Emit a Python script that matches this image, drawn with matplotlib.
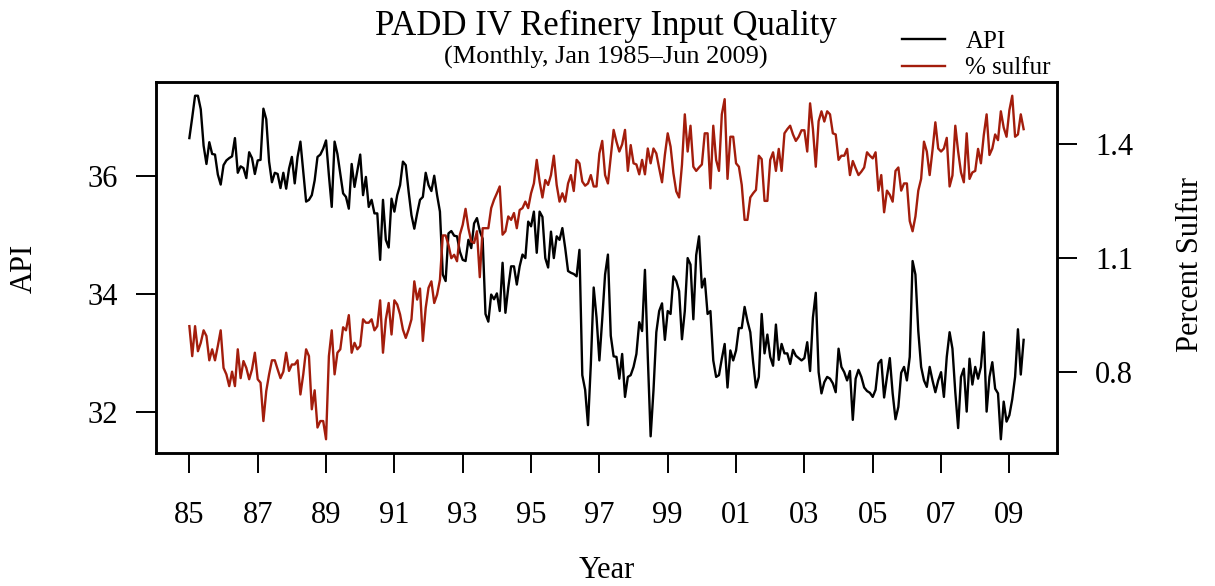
import numpy as np
import matplotlib
matplotlib.use("Agg")
from matplotlib import pyplot as plt

# monthly series, Jan 1985 - Jun 2009
start_year = 1985
api = [
    36.65, 37.00, 37.37, 37.37, 37.14, 36.52, 36.21, 36.58, 36.38, 36.37, 36.03, 35.86,
    36.19, 36.27, 36.31, 36.34, 36.65, 36.06, 36.17, 36.14, 35.97, 36.41, 36.31, 36.04,
    36.27, 36.28, 37.15, 36.97, 36.25, 35.90, 36.06, 36.04, 35.80, 36.06, 35.79, 36.13,
    36.33, 35.88, 36.33, 36.59, 36.07, 35.57, 35.60, 35.68, 35.93, 36.33, 36.37, 36.47,
    36.61, 36.02, 35.48, 36.59, 36.38, 36.04, 35.71, 35.65, 35.45, 36.21, 35.82, 36.10,
    36.37, 35.68, 35.99, 35.48, 35.60, 35.37, 35.37, 34.58, 35.60, 34.92, 34.79, 35.62,
    35.40, 35.68, 35.85, 36.25, 36.19, 35.74, 35.34, 35.11, 35.37, 35.60, 35.65, 36.06,
    35.85, 35.75, 36.01, 35.68, 35.40, 34.33, 34.22, 35.03, 35.07, 34.99, 34.98, 34.72,
    34.58, 34.56, 34.92, 34.78, 35.20, 35.29, 35.07, 34.94, 33.66, 33.53, 33.99, 33.91,
    34.01, 33.71, 34.53, 33.68, 34.11, 34.47, 34.47, 34.16, 34.47, 34.67, 34.61, 35.23,
    35.15, 35.40, 34.70, 35.40, 35.31, 34.61, 34.45, 35.06, 34.61, 34.98, 34.92, 35.12,
    34.78, 34.39, 34.36, 34.34, 34.30, 34.75, 32.62, 32.37, 31.77, 32.81, 34.11, 33.60,
    32.87, 33.57, 34.33, 34.67, 33.29, 32.94, 32.93, 32.56, 32.98, 32.25, 32.59, 32.62,
    32.76, 32.98, 33.52, 33.37, 34.41, 32.93, 31.58, 32.36, 33.35, 33.71, 33.84, 33.22,
    33.71, 33.66, 34.30, 34.22, 34.05, 33.23, 33.71, 34.61, 34.50, 33.57, 34.66, 34.98,
    34.11, 34.26, 33.66, 33.71, 32.87, 32.59, 32.62, 32.90, 33.15, 32.41, 33.04, 32.87,
    33.04, 33.42, 33.42, 33.78, 33.54, 33.35, 32.84, 32.41, 32.59, 33.66, 32.99, 33.31,
    32.93, 32.78, 33.48, 32.88, 33.15, 32.99, 32.99, 32.81, 33.05, 32.95, 32.91, 32.87,
    32.91, 33.18, 32.69, 33.60, 34.02, 32.67, 32.31, 32.50, 32.59, 32.56, 32.48, 32.33,
    33.07, 32.76, 32.67, 32.53, 32.69, 31.86, 32.56, 32.71, 32.59, 32.41, 32.35, 32.32,
    32.25, 32.37, 32.82, 32.88, 32.24, 32.59, 32.91, 32.31, 31.87, 32.08, 32.66, 32.76,
    32.53, 32.93, 34.56, 34.33, 33.37, 32.76, 32.53, 32.42, 32.76, 32.53, 32.33, 32.53,
    32.67, 32.25, 32.93, 33.35, 33.07, 32.33, 31.72, 32.59, 32.73, 32.00, 32.90, 32.46,
    32.76, 32.56, 32.76, 33.35, 32.00, 32.59, 32.84, 32.39, 32.31, 31.53, 32.17, 31.83,
    31.94, 32.21, 32.59, 33.40, 32.63, 33.22,
]
sulfur = [
    0.921, 0.842, 0.921, 0.855, 0.877, 0.910, 0.895, 0.831, 0.860, 0.831, 0.869, 0.910,
    0.811, 0.794, 0.763, 0.801, 0.763, 0.860, 0.784, 0.829, 0.811, 0.781, 0.807, 0.851,
    0.781, 0.772, 0.671, 0.750, 0.794, 0.831, 0.831, 0.807, 0.784, 0.801, 0.851, 0.803,
    0.820, 0.820, 0.831, 0.741, 0.794, 0.860, 0.842, 0.702, 0.752, 0.654, 0.671, 0.671,
    0.623, 0.842, 0.910, 0.794, 0.851, 0.860, 0.918, 0.910, 0.950, 0.851, 0.877, 0.860,
    0.869, 0.939, 0.930, 0.930, 0.939, 0.910, 0.921, 0.989, 0.851, 0.939, 0.982, 0.899,
    0.989, 0.978, 0.952, 0.912, 0.890, 0.912, 0.939, 1.039, 0.991, 1.020, 0.882, 0.969,
    1.022, 1.039, 0.982, 1.004, 1.043, 1.160, 1.160, 1.135, 1.100, 1.109, 1.092, 1.162,
    1.188, 1.230, 1.179, 1.144, 1.140, 1.171, 1.050, 1.179, 1.179, 1.179, 1.232, 1.254,
    1.271, 1.289, 1.162, 1.171, 1.210, 1.201, 1.219, 1.179, 1.227, 1.232, 1.249, 1.232,
    1.271, 1.297, 1.359, 1.302, 1.260, 1.306, 1.293, 1.319, 1.370, 1.293, 1.249, 1.271,
    1.249, 1.297, 1.319, 1.277, 1.359, 1.350, 1.302, 1.291, 1.297, 1.319, 1.289, 1.289,
    1.376, 1.409, 1.319, 1.297, 1.367, 1.438, 1.407, 1.381, 1.400, 1.438, 1.330, 1.398,
    1.350, 1.347, 1.321, 1.359, 1.321, 1.389, 1.350, 1.389, 1.376, 1.337, 1.300, 1.372,
    1.429, 1.394, 1.324, 1.276, 1.260, 1.346, 1.479, 1.381, 1.449, 1.341, 1.330, 1.339,
    1.347, 1.429, 1.429, 1.284, 1.449, 1.359, 1.330, 1.479, 1.519, 1.309, 1.420, 1.420,
    1.350, 1.341, 1.293, 1.201, 1.201, 1.260, 1.271, 1.280, 1.370, 1.361, 1.251, 1.251,
    1.359, 1.379, 1.330, 1.388, 1.330, 1.429, 1.440, 1.449, 1.426, 1.409, 1.420, 1.437,
    1.437, 1.381, 1.508, 1.440, 1.341, 1.461, 1.487, 1.460, 1.487, 1.479, 1.429, 1.426,
    1.359, 1.370, 1.370, 1.388, 1.319, 1.356, 1.337, 1.319, 1.328, 1.339, 1.379, 1.370,
    1.363, 1.379, 1.278, 1.319, 1.221, 1.278, 1.267, 1.249, 1.330, 1.339, 1.278, 1.297,
    1.297, 1.198, 1.171, 1.210, 1.278, 1.309, 1.407, 1.381, 1.319, 1.385, 1.458, 1.389,
    1.381, 1.389, 1.417, 1.289, 1.318, 1.449, 1.381, 1.326, 1.300, 1.429, 1.309, 1.326,
    1.330, 1.388, 1.350, 1.424, 1.479, 1.372, 1.389, 1.426, 1.411, 1.487, 1.444, 1.420,
    1.490, 1.528, 1.420, 1.426, 1.479, 1.440,
]
tick_years = list(range(1985, 2010, 2))
tick_labels = ['85', '87', '89', '91', '93', '95', '97', '99', '01', '03', '05', '07', '09']
api_ticks = [32, 34, 36]
sulfur_ticks = [0.8, 1.1, 1.4]

plt.rcParams['font.family'] = ['Liberation Serif', 'DejaVu Serif']

t = start_year + np.arange(len(api)) / 12.0
red = '#a31d0c'


def r_range(v):
    # R style axis range: data range padded by 4%
    lo, hi = min(v), max(v)
    pad = 0.04 * (hi - lo)
    return lo - pad, hi + pad


W, H = 1215, 586
fig = plt.figure(figsize=(W / 100, H / 100), dpi=100)
ax = fig.add_axes([156 / W, 1 - 453 / H, (1057 - 156) / W, (453 - 82) / H])
ax2 = ax.twinx()

l1, = ax.plot(t, api, color='black', lw=1.7)
l2, = ax2.plot(t, sulfur, color=red, lw=1.7)

ax.set_xlim(*r_range(t))
ax.set_ylim(*r_range(api))
ax2.set_ylim(*r_range(sulfur))

ax.set_xticks(tick_years)
ax.set_xticklabels(tick_labels)
ax.set_yticks(api_ticks)
ax2.set_yticks(sulfur_ticks)
ax2.set_yticklabels(['0.8', '1.1', '1.4'])

for a in (ax, ax2):
    for s in a.spines.values():
        s.set_linewidth(1.8)
ax.tick_params(axis='both', direction='out', length=14.5, width=1.4, labelsize=22)
ax.tick_params(axis='x', pad=20)
ax.tick_params(axis='y', pad=13)
ax2.tick_params(axis='y', direction='out', length=14.5, width=1.4, labelsize=22, pad=13)

fig.text(606 / W, 1 - 26 / H, 'PADD IV Refinery Input Quality', ha='center', va='center', fontsize=25)
fig.text(606 / W, 1 - 57 / H, '(Monthly, Jan 1985\u2013Jun 2009)', ha='center', va='center', fontsize=19)
fig.text(24 / W, 1 - 268 / H, 'API', ha='center', va='center', rotation=90, fontsize=22)
fig.text(607 / W, 1 - 571 / H, 'Year', ha='center', va='center', fontsize=22)
fig.text(1191 / W, 1 - 265 / H, 'Percent Sulfur', ha='center', va='center', rotation=90, fontsize=22)

fig.legend(handles=[l1, l2], labels=['API', '% sulfur'], loc='upper left',
           bbox_to_anchor=(889 / W, 1 - 18 / H), frameon=False, fontsize=18,
           handlelength=1.75, handletextpad=0.8, labelspacing=0.15, borderpad=0)

fig.savefig('out.png', dpi=100)
